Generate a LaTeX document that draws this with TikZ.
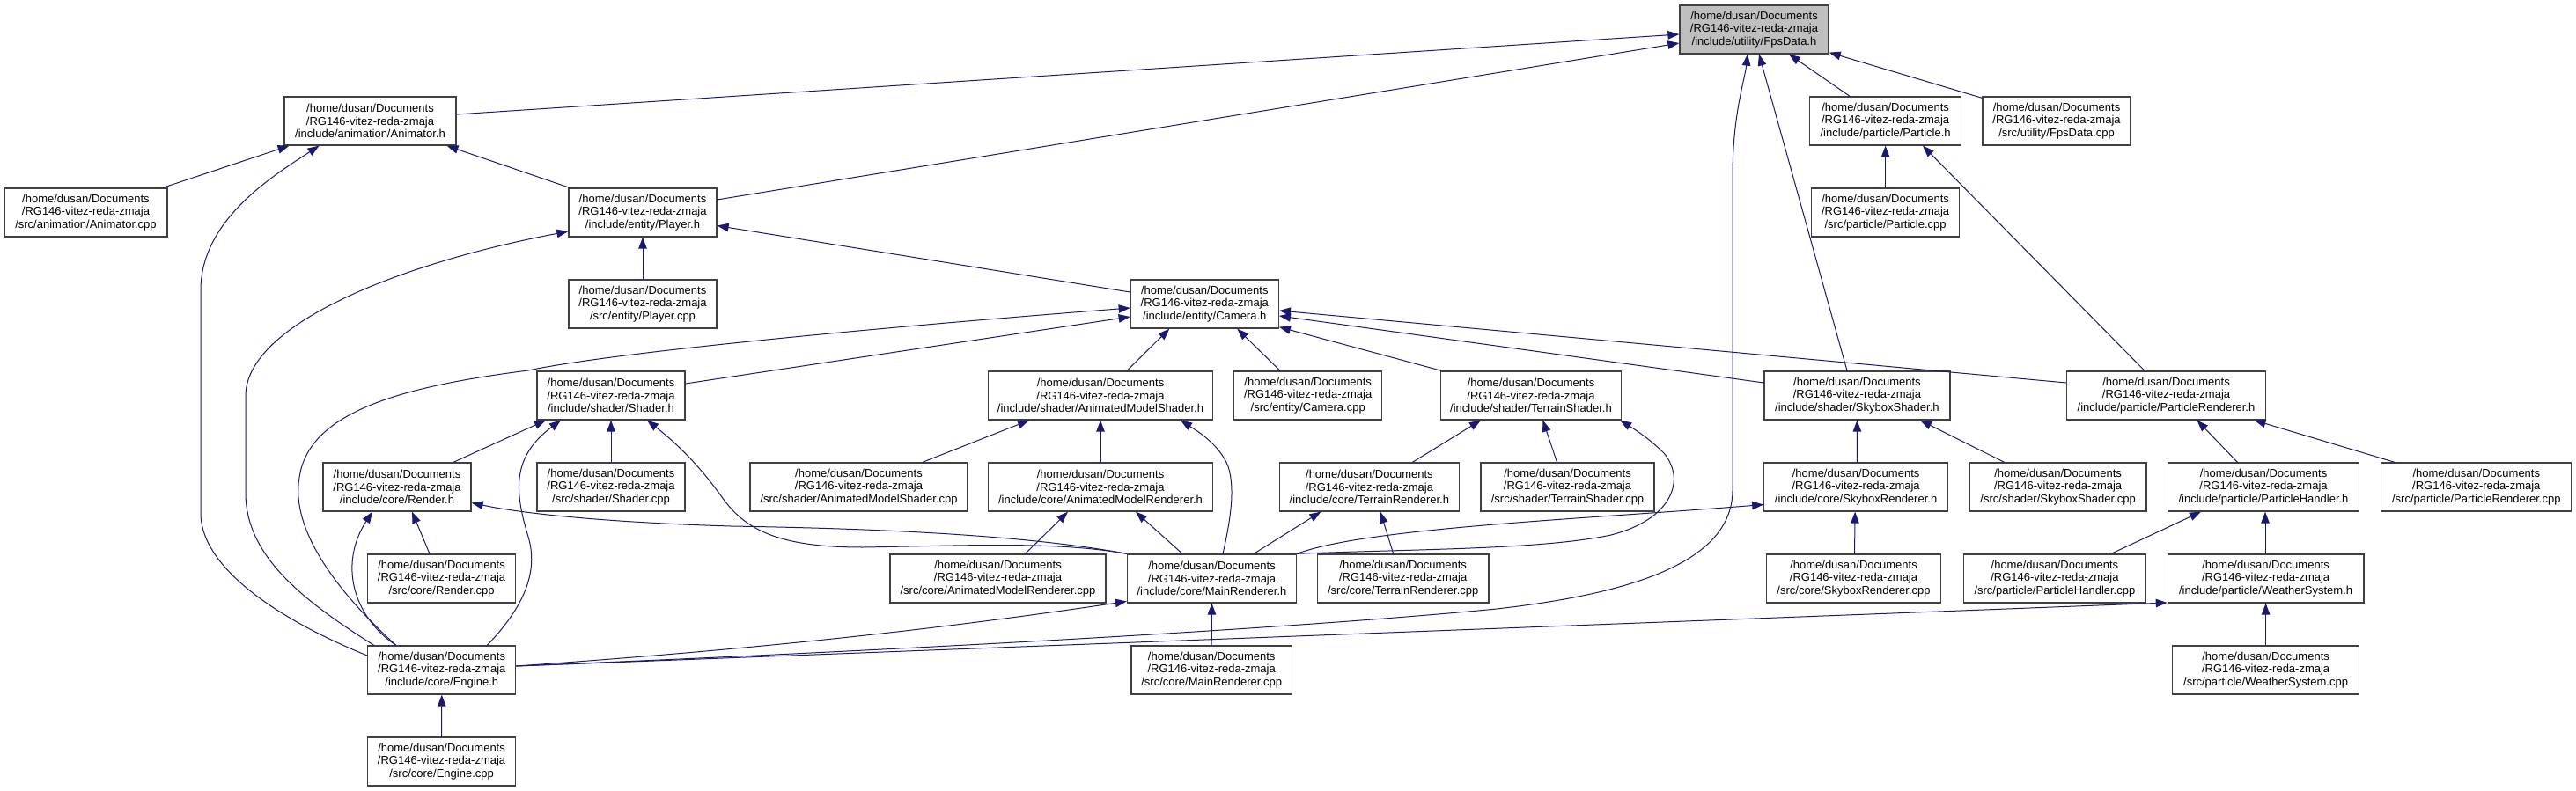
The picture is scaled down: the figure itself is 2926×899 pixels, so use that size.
\documentclass[tikz,border=0pt]{standalone}
\usepackage{fontspec}
\setmainfont{Liberation Sans}
\usetikzlibrary{arrows.meta}
\definecolor{edgeblue}{HTML}{191970}
\definecolor{boxline}{HTML}{404040}
\definecolor{boxgray}{HTML}{BFBFBF}
\tikzset{
  filebox/.style={draw=boxline, line width=1.3pt, fill=white, minimum height=55pt,
    inner xsep=2pt, inner ysep=0pt, align=center,
    font=\fontsize{13}{14.7}\selectfont},
  inc/.style={draw=edgeblue, line width=1pt, -{Triangle[length=13pt,width=9.5pt]}},
}
\newcommand{\mkfile}[5][]{\node[filebox,minimum width=#4pt,#1] (#2) at (#3) {/home/dusan/Documents\\/RG146-vitez-reda-zmaja\\#5};}
\begin{document}
\begin{tikzpicture}[x=1pt,y=-1pt]
\useasboundingbox (0,0) rectangle (2926,899);
% row 0
\mkfile[fill=boxgray]{fps}{1992.5,33.5}{169}{/include/utility/FpsData.h}
% row 1
\mkfile{anim}{420.5,137.5}{195}{/include/animation/Animator.h}
\mkfile{particle}{2141.6,137.5}{172}{/include/particle/Particle.h}
\mkfile{fpscpp}{2336,137.5}{168}{/src/utility/FpsData.cpp}
% row 2
\mkfile{animcpp}{97.5,241.5}{185}{/src/animation/Animator.cpp}
\mkfile{player}{730,241.5}{168}{/include/entity/Player.h}
\mkfile{particlecpp}{2141.6,241.5}{168}{/src/particle/Particle.cpp}
% row 3
\mkfile{playercpp}{730,345.5}{168}{/src/entity/Player.cpp}
\mkfile{camera}{1368.3,345.5}{168}{/include/entity/Camera.h}
% row 4
\mkfile{shader}{694,449.5}{168}{/include/shader/Shader.h}
\mkfile{ams}{1250,449.5}{255}{/include/shader/AnimatedModelShader.h}
\mkfile{cameracpp}{1485.7,449.5}{168}{/src/entity/Camera.cpp}
\mkfile{terrainshader}{1739,449.5}{205}{/include/shader/TerrainShader.h}
\mkfile{skyboxshader}{2109.4,449.5}{211}{/include/shader/SkyboxShader.h}
\mkfile{particlerenderer}{2460.5,449.5}{226}{/include/particle/ParticleRenderer.h}
% row 5
\mkfile{render}{451,553.5}{168}{/include/core/Render.h}
\mkfile{shadercpp}{694,553.5}{168}{/src/shader/Shader.cpp}
\mkfile{amscpp}{975.5,553.5}{247}{/src/shader/AnimatedModelShader.cpp}
\mkfile{amr}{1250,553.5}{255}{/include/core/AnimatedModelRenderer.h}
\mkfile{terrainrenderer}{1555.4,553.5}{204}{/include/core/TerrainRenderer.h}
\mkfile{terrainshadercpp}{1780.5,553.5}{197}{/src/shader/TerrainShader.cpp}
\mkfile{skyboxrenderer}{2108.1,553.5}{208.6}{/include/core/SkyboxRenderer.h}
\mkfile{skyboxshadercpp}{2337.6,553.5}{201}{/src/shader/SkyboxShader.cpp}
\mkfile{particlehandler}{2571,553.5}{217.5}{/include/particle/ParticleHandler.h}
\mkfile{particlerenderercpp}{2812.8,553.5}{216}{/src/particle/ParticleRenderer.cpp}
% row 6
\mkfile{rendercpp}{501.6,657.5}{168}{/src/core/Render.cpp}
\mkfile{amrcpp}{1133.5,657.5}{245}{/src/core/AnimatedModelRenderer.cpp}
\mkfile{mainrenderer}{1376.5,657.5}{192}{/include/core/MainRenderer.h}
\mkfile{terrainrenderercpp}{1593.7,657.5}{194.7}{/src/core/TerrainRenderer.cpp}
\mkfile{skyboxrenderercpp}{2105.5,657.5}{198}{/src/core/SkyboxRenderer.cpp}
\mkfile{particlehandlercpp}{2333.9,657.5}{207}{/src/particle/ParticleHandler.cpp}
\mkfile{weathersystem}{2573.6,657.5}{222.6}{/include/particle/WeatherSystem.h}
% row 7
\mkfile{engine}{501.8,761.5}{168}{/include/core/Engine.h}
\mkfile{mainrenderercpp}{1376.2,761.5}{182.5}{/src/core/MainRenderer.cpp}
\mkfile{weathersystemcpp}{2573.6,761.5}{212.4}{/src/particle/WeatherSystem.cpp}
% row 8
\mkfile{enginecpp}{501.6,865.5}{168}{/src/core/Engine.cpp}

% edges
\draw[inc] ([yshift=7.5pt]anim.east) -- ([yshift=-5.5pt]fps.west);
\draw[inc] ([yshift=14.5pt]player.east) -- ([yshift=-15.5pt]fps.west);
\draw[inc] ([xshift=87.5pt]animcpp.north) -- ([xshift=-92pt]anim.south);
\draw[inc] ([yshift=16.5pt]engine.west) .. controls (330,710) and (228,650) .. (228,583)
  -- (228,330) .. controls (228,250) and (310,200) .. ([xshift=-58pt]anim.south);
\draw[inc] ([xshift=-83pt]player.north) -- ([xshift=87pt]anim.south);
\draw[inc] (playercpp.north) -- (player.south);
\draw[inc] ([yshift=13.5pt]camera.west) -- ([yshift=-15pt]player.east);
\draw[inc] ([xshift=-40.5pt]particle.north) -- ([xshift=39.5pt]fps.south);
\draw[inc] ([yshift=-2pt]fpscpp.north west) -- ([yshift=2pt]fps.south east);
\draw[inc] (particlecpp.north) -- (particle.south);
\draw[inc] ([xshift=-24.5pt]particlerenderer.north) -- ([xshift=42.4pt]particle.south);
\draw[inc] ([xshift=-11.4pt]skyboxshader.north) -- ([xshift=5.5pt]fps.south);
\draw[inc] ([yshift=4.5pt]engine.east) .. controls (1000,740) and (1450,716) .. (1700,692)
  .. controls (1850,675) and (1968,640) .. (1968,557) -- (1968,200)
  .. controls (1968,130) and (1982,90) .. ([xshift=-7.5pt]fps.south);
\draw[inc] ([yshift=4.5pt]engine.east) .. controls (900,735) and (1100,710) .. ([yshift=-26pt]mainrenderer.west);
\draw[inc] ([yshift=4.5pt]engine.east) -- ([yshift=-27.5pt]weathersystem.west);
\draw[inc] ([xshift=-52pt]engine.north) .. controls (380,670) and (330,600) .. (340,543)
  .. controls (350,470) and (450,440) .. (600,421)
  .. controls (700,400) and (1000,372) .. ([yshift=-4.5pt]camera.west);
\draw[inc] ([yshift=13.5pt]shader.east) -- ([yshift=-14.5pt]camera.west);
\draw[inc] ([xshift=30pt]ams.north) -- ([xshift=-40pt]camera.south);
\draw[inc] ([xshift=-31.7pt]cameracpp.north) -- ([xshift=37pt]camera.south);
\draw[inc] ([xshift=1.5pt]terrainshader.north west) -- ([yshift=2pt]camera.south east);
\draw[inc] ([yshift=14.5pt]particlerenderer.west) -- ([yshift=-7.5pt]camera.east);
\draw[inc] ([yshift=14.5pt]skyboxshader.west) -- ([yshift=-13.5pt]camera.east);
\draw[inc] ([xshift=64pt]render.north) -- ([xshift=-74pt]shader.south);
\draw[inc] ([xshift=51.5pt]engine.north) .. controls (595,690) and (612,650) .. (600,610)
  .. controls (585,560) and (580,520) .. ([xshift=-57pt]shader.south);
\draw[inc] (shadercpp.north) -- (shader.south);
\draw[inc] (mainrenderer.north west) .. controls (1200,615) and (1100,620) .. (980,622)
  .. controls (880,622) and (845,600) .. (820,565)
  .. controls (795,530) and (770,505) .. ([xshift=41pt]shader.south);
\draw[inc] (mainrenderer.north west) .. controls (1150,605) and (950,600) .. (830,598)
  .. controls (700,594) and (600,585) .. ([yshift=-18pt]render.east);
\draw[inc] ([xshift=72.3pt]amscpp.north) -- ([xshift=-81pt]ams.south);
\draw[inc] (amr.north) -- (ams.south);
\draw[inc] ([xshift=12.5pt]mainrenderer.north) .. controls (1398,590) and (1403,555) .. (1395,530)
  .. controls (1385,505) and (1360,490) .. ([xshift=91pt]ams.south);
\draw[inc] ([xshift=31pt]amrcpp.north) -- ([xshift=-37pt]amr.south);
\draw[inc] ([xshift=-33.5pt]mainrenderer.north) -- ([xshift=40pt]amr.south);
\draw[inc] ([xshift=49pt]terrainrenderer.north) -- ([xshift=-57pt]terrainshader.south);
\draw[inc] ([xshift=-12pt]terrainshadercpp.north) -- ([xshift=13.5pt]terrainshader.south);
\draw[inc] (mainrenderer.north east) .. controls (1600,624) and (1750,625) .. (1830,608)
  .. controls (1900,590) and (1915,545) .. (1890,515)
  .. controls (1875,500) and (1860,490) .. ([xshift=-2pt]terrainshader.south east);
\draw[inc] ([xshift=-11pt]terrainrenderercpp.north) -- ([xshift=12.5pt]terrainrenderer.south);
\draw[inc] ([xshift=47.5pt]mainrenderer.north) -- ([xshift=-55pt]terrainrenderer.south);
\draw[inc] (mainrenderer.north east) .. controls (1550,600) and (1800,590) .. ([yshift=-20pt]skyboxrenderer.west);
\draw[inc] (mainrenderercpp.north) -- (mainrenderer.south);
\draw[inc] ([xshift=1.3pt]skyboxrenderer.north) -- (skyboxshader.south);
\draw[inc] ([xshift=-61pt]skyboxshadercpp.north) -- ([xshift=71.6pt]skyboxshader.south);
\draw[inc] ([xshift=1pt]skyboxrenderercpp.north) -- ([xshift=-1pt]skyboxrenderer.south);
\draw[inc] ([xshift=-29.6pt]particlehandler.north) -- ([xshift=35pt]particlerenderer.south);
\draw[inc] ([xshift=-92.8pt]particlerenderercpp.north) -- ([xshift=100pt]particlerenderer.south);
\draw[inc] ([xshift=64pt]particlehandlercpp.north) -- ([xshift=-71pt]particlehandler.south);
\draw[inc] ([xshift=-0.6pt]weathersystem.north) -- ([xshift=2pt]particlehandler.south);
\draw[inc] (weathersystemcpp.north) -- (weathersystem.south);
\draw[inc] ([xshift=-13.6pt]rendercpp.north) -- ([xshift=17pt]render.south);
\draw[inc] ([xshift=-52pt]engine.north) .. controls (400,700) and (385,640) .. ([xshift=-28pt]render.south);
\draw[inc] ([xshift=-77pt]engine.north) .. controls (340,680) and (279,630) .. (279,560)
  -- (279,450) .. controls (279,370) and (450,300) .. ([yshift=-21.5pt]player.west);
\draw[inc] (enginecpp.north) -- (engine.south);
\end{tikzpicture}
\end{document}
